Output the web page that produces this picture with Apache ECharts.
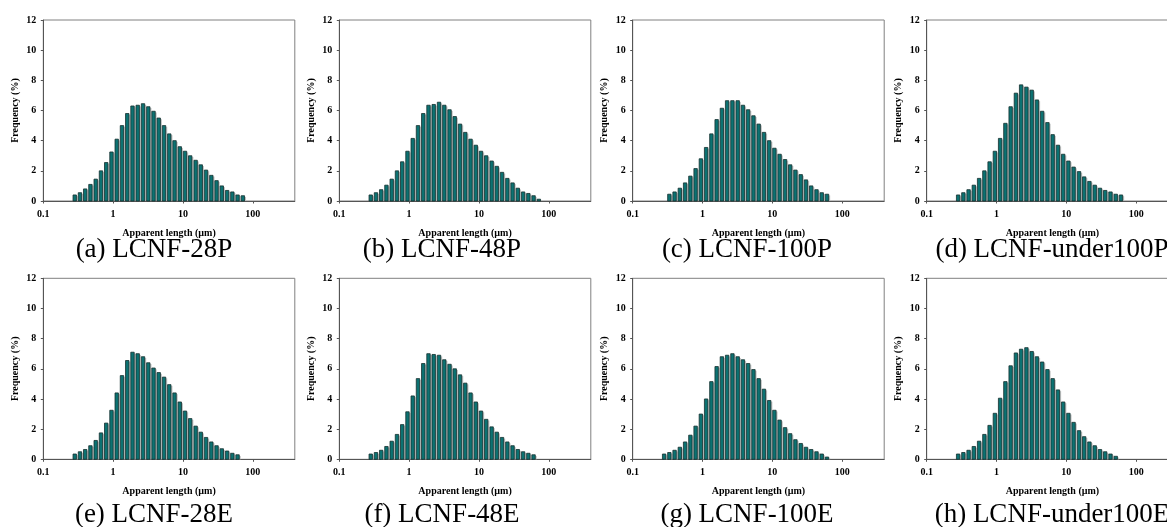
<!DOCTYPE html>
<html>
<head>
<meta charset="utf-8">
<script src="https://cdn.jsdelivr.net/npm/echarts@6/dist/echarts.min.js"></script>
<style>
html,body{margin:0;padding:0;background:#fff;}
#chart{width:1167px;height:527px;}
</style>
</head>
<body>
<div id="chart"></div>
<script>
// Bin centres (apparent length, µm)
const bins = [0.282, 0.335, 0.398, 0.473, 0.563, 0.670, 0.796, 0.947, 1.126, 1.339, 1.593,
  1.894, 2.25, 2.68, 3.19, 3.79, 4.50, 5.36, 6.37, 7.58, 9.01, 10.7, 12.7, 15.2, 18.0,
  21.4, 25.5, 30.3, 36.0, 42.9, 51.0, 60.6, 72.1];

// Frequency (%) per panel
const lcnf28P = [0.4, 0.55, 0.8, 1.1, 1.45, 2.0, 2.55, 3.25, 4.1, 5.0, 5.8, 6.3, 6.35, 6.45, 6.25,
  5.95, 5.5, 5.0, 4.45, 4.0, 3.6, 3.3, 3.0, 2.7, 2.4, 2.05, 1.7, 1.35, 1.0, 0.7, 0.6, 0.4, 0.35];
const lcnf48P = [0.4, 0.55, 0.75, 1.05, 1.45, 2.0, 2.6, 3.3, 4.15, 5.0, 5.8, 6.35, 6.4, 6.55, 6.35,
  6.05, 5.6, 5.1, 4.55, 4.1, 3.7, 3.3, 3.0, 2.65, 2.3, 1.9, 1.5, 1.2, 0.85, 0.6, 0.5, 0.35, 0.12];
const lcnf100P = [0.45, 0.6, 0.85, 1.2, 1.65, 2.15, 2.8, 3.55, 4.45, 5.4, 6.15, 6.65, 6.65, 6.65,
  6.35, 6.05, 5.65, 5.1, 4.55, 4.0, 3.5, 3.1, 2.75, 2.4, 2.05, 1.75, 1.4, 1.0, 0.75, 0.55, 0.45];
const lcnfUnder100P = [0.4, 0.55, 0.75, 1.05, 1.5, 2.0, 2.6, 3.3, 4.15, 5.15, 6.25, 7.15, 7.7, 7.55,
  7.35, 6.7, 5.95, 5.2, 4.4, 3.7, 3.1, 2.65, 2.25, 1.95, 1.6, 1.3, 1.05, 0.85, 0.7, 0.6, 0.45, 0.4];
const lcnf28E = [0.35, 0.5, 0.65, 0.9, 1.25, 1.75, 2.4, 3.25, 4.4, 5.55, 6.55, 7.1, 7.0, 6.8, 6.4,
  6.05, 5.75, 5.45, 4.95, 4.4, 3.8, 3.2, 2.7, 2.2, 1.8, 1.45, 1.15, 0.9, 0.7, 0.55, 0.4, 0.3];
const lcnf48E = [0.35, 0.45, 0.6, 0.85, 1.2, 1.65, 2.3, 3.15, 4.2, 5.35, 6.35, 7.0, 6.95, 6.9, 6.6,
  6.3, 6.0, 5.6, 5.05, 4.4, 3.8, 3.2, 2.65, 2.15, 1.8, 1.45, 1.15, 0.9, 0.65, 0.5, 0.4, 0.3];
const lcnf100E = [0.35, 0.45, 0.6, 0.8, 1.15, 1.6, 2.2, 3.0, 4.0, 5.15, 6.15, 6.8, 6.9, 7.0, 6.8,
  6.6, 6.35, 5.95, 5.35, 4.65, 3.9, 3.25, 2.6, 2.1, 1.7, 1.3, 1.05, 0.8, 0.65, 0.5, 0.35, 0.15];
const lcnfUnder100E = [0.35, 0.45, 0.6, 0.85, 1.2, 1.65, 2.25, 3.05, 4.05, 5.15, 6.2, 7.05, 7.3,
  7.4, 7.15, 6.8, 6.45, 5.95, 5.35, 4.6, 3.8, 3.05, 2.45, 1.9, 1.5, 1.15, 0.9, 0.65, 0.5, 0.35, 0.2];

const panelSeries = [lcnf28P, lcnf48P, lcnf100P, lcnfUnder100P, lcnf28E, lcnf48E, lcnf100E, lcnfUnder100E];
const panelStartBin = [0, 0, 1, 0, 0, 0, 0, 0];
const captions = ['(a) LCNF-28P', '(b) LCNF-48P', '(c) LCNF-100P', '(d) LCNF-under100P',
  '(e) LCNF-28E', '(f) LCNF-48E', '(g) LCNF-100E', '(h) LCNF-under100E'];
const xTickLabels = ['0.1', '1', '10', '100'];
const yTickLabels = ['0', '2', '4', '6', '8', '10', '12'];
const xTitle = 'Apparent length (\u00b5m)';
const yTitle = 'Frequency (%)';

// layout
const colLeft = [43.3, 339.3, 632.7, 926.7];
const rowTop = [20, 278.3];
const gridW = 251.5, gridH = 181;
const capX = [154, 442, 747, 1052];
const capY = [250, 515];

const FONT = '"Liberation Serif", "Times New Roman", serif';

function renderBar(params, api) {
  const x = api.value(0), y = api.value(1);
  const top = api.coord([x, y]);
  const base = api.coord([x, 0]);
  const w = 3.4;
  const h = base[1] - top[1];
  return {
    type: 'group',
    children: [
      { type: 'rect', shape: { x: top[0] - w / 2 + 1.5, y: top[1] + 1.2, width: w, height: Math.max(0, h - 1.2) },
        style: { fill: '#c2c4c4' } },
      { type: 'rect', shape: { x: top[0] - w / 2, y: top[1], width: w, height: h },
        style: { fill: '#0c7272', stroke: '#15302f', lineWidth: 0.8 } }
    ]
  };
}

const grids = [], xAxes = [], yAxes = [], series = [], graphics = [];
for (let i = 0; i < 8; i++) {
  const r = Math.floor(i / 4), c = i % 4;
  grids.push({ left: colLeft[c], top: rowTop[r], width: gridW, height: gridH, show: true,
    borderColor: '#808080', borderWidth: 1, backgroundColor: 'transparent', containLabel: false, outerBoundsMode: 'none' });
  xAxes.push({
    type: 'log', logBase: 10, min: 0.1, max: 400, gridIndex: i,
    name: xTitle, nameLocation: 'middle', nameGap: 27,
    nameTextStyle: { fontFamily: FONT, fontWeight: 'bold', fontSize: 10, color: '#000' },
    axisLine: { show: true, lineStyle: { color: '#555', width: 1 } },
    axisTick: { show: true, length: 2.5, lineStyle: { color: '#555' } },
    minorTick: { show: false },
    splitLine: { show: false },
    axisLabel: {
      margin: 8, fontFamily: FONT, fontWeight: 'bold', fontSize: 10, color: '#000',
      showMinLabel: true, showMaxLabel: false,
      formatter: function (v) {
        const l = Math.log10(v);
        const k = Math.round(l);
        if (Math.abs(l - k) > 1e-6) return '';
        const idx = k + 1;
        return xTickLabels[idx] !== undefined ? xTickLabels[idx] : '';
      }
    }
  });
  yAxes.push({
    type: 'value', min: 0, max: 12, interval: 2, gridIndex: i,
    name: yTitle, nameLocation: 'middle', nameGap: 23, nameRotate: 90,
    nameTextStyle: { fontFamily: FONT, fontWeight: 'bold', fontSize: 10, color: '#000' },
    axisLine: { show: true, lineStyle: { color: '#555', width: 1 } },
    axisTick: { show: true, length: 2.5, lineStyle: { color: '#555' } },
    splitLine: { show: false },
    axisLabel: {
      margin: 7, fontFamily: FONT, fontWeight: 'bold', fontSize: 10, color: '#000',
      formatter: function (v) { const s = yTickLabels[Math.round(v / 2)]; return s !== undefined ? s : ''; }
    }
  });
  const vals = panelSeries[i];
  const data = vals.map((v, j) => [bins[panelStartBin[i] + j], v]);
  series.push({
    type: 'custom', xAxisIndex: i, yAxisIndex: i, renderItem: renderBar,
    encode: { x: 0, y: 1 }, data: data, silent: true, animation: false
  });
  graphics.push({
    type: 'text', x: capX[c], y: capY[r],
    style: { text: captions[i], fontFamily: FONT, fontSize: 27, fill: '#000',
      textAlign: 'center', textVerticalAlign: 'middle' }
  });
}

const chart = echarts.init(document.getElementById('chart'), null, { renderer: 'canvas' });
chart.setOption({
  animation: false,
  backgroundColor: '#fff',
  grid: grids,
  xAxis: xAxes,
  yAxis: yAxes,
  series: series,
  graphic: graphics
});
</script>
</body>
</html>
